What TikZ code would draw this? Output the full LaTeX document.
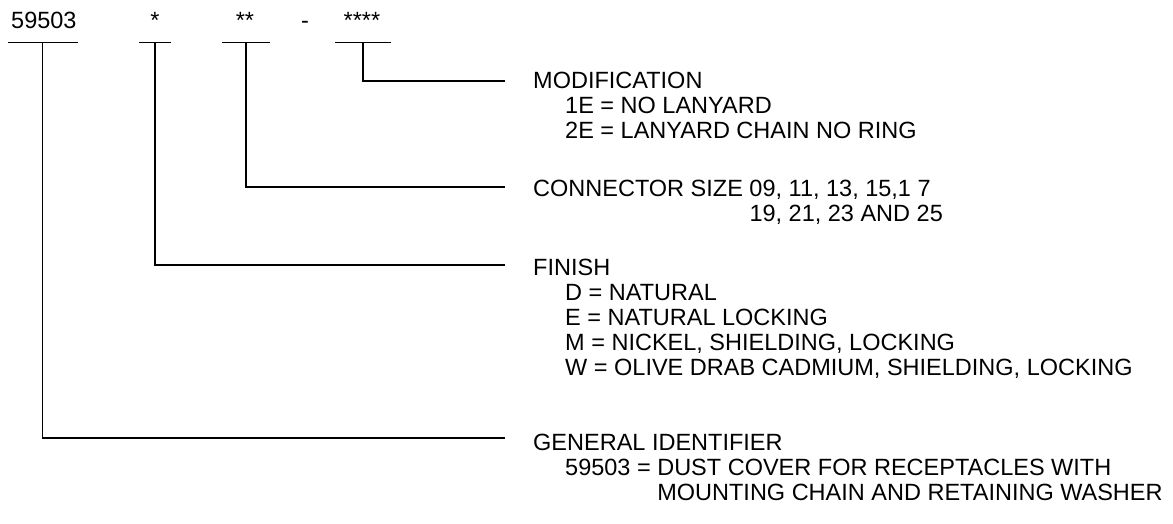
\documentclass[tikz,border=0pt]{standalone}
\usepackage{fontspec}
\setmainfont{Liberation Sans}
\begin{document}
\begin{tikzpicture}[x=1pt,y=-1pt,
  txt/.style={inner sep=0pt,anchor=base west,font=\fontsize{23.5}{25}\selectfont},
  star/.style={inner sep=0pt,anchor=base,font=\fontsize{23.5}{25}\selectfont},
  bar/.style={line width=1.8pt},
  lead/.style={line width=1.8pt}]
\useasboundingbox (0,0) rectangle (1173,523);
% top code
\node[txt] (code) at (11,28) {59503};
\node[star] (fin0) at (155,28) {*};
\node[star] (size0) at (245,28) {**};
\node[star] (dash) at (305,28) {-};
\node[star] (mod0) at (362,28) {****};
% bars
\coordinate (c1l) at (8,42.5);   \coordinate (c1r) at (78,42.5);
\coordinate (c2l) at (139,42.5); \coordinate (c2r) at (171,42.5);
\coordinate (c3l) at (222,42.5); \coordinate (c3r) at (270,42.5);
\coordinate (c4l) at (335,42.5); \coordinate (c4r) at (391,42.5);
\draw[bar] (c1l) -- (c1r);
\draw[bar] (c2l) -- (c2r);
\draw[bar] (c3l) -- (c3r);
\draw[bar] (c4l) -- (c4r);
\coordinate (b1) at (42.5,42.5);
\coordinate (b2) at (155,42.5);
\coordinate (b3) at (246,42.5);
\coordinate (b4) at (363,42.5);
% line ends
\coordinate (e4) at (505,81);
\coordinate (e3) at (505,187);
\coordinate (e2) at (505,265);
\coordinate (e1) at (505,438);
\draw[lead] (b4) |- (e4);
\draw[lead] (b3) |- (e3);
\draw[lead] (b2) |- (e2);
\draw[lead] (b1) |- (e1);
% texts
\node[txt] (mod) at (533,88) {MODIFICATION};
\node[txt] (mod1) at (565,113) {1E = NO LANYARD};
\node[txt] (mod2) at (565,138) {2E = LANYARD CHAIN NO RING};
\node[txt] (con) at (533,196) {CONNECTOR SIZE 09, 11, 13, 15,1 7};
\node[txt] (con2) at (533,221) {\phantom{CONNECTOR SIZE }19, 21, 23 AND 25};
\node[txt] (fin) at (533,275) {FINISH};
\node[txt] (finD) at (565,300) {D = NATURAL};
\node[txt] (finE) at (565,325) {E = NATURAL LOCKING};
\node[txt] (finM) at (565,350) {M = NICKEL, SHIELDING, LOCKING};
\node[txt] (finW) at (565,375) {W = OLIVE DRAB CADMIUM, SHIELDING, LOCKING};
\node[txt] (gen) at (533,450) {GENERAL IDENTIFIER};
\node[txt] (gen1) at (565,475) {59503 = DUST COVER FOR RECEPTACLES WITH};
\node[txt] (gen2) at (565,500) {\phantom{59503 = }MOUNTING CHAIN AND RETAINING WASHER};
\end{tikzpicture}
\end{document}
